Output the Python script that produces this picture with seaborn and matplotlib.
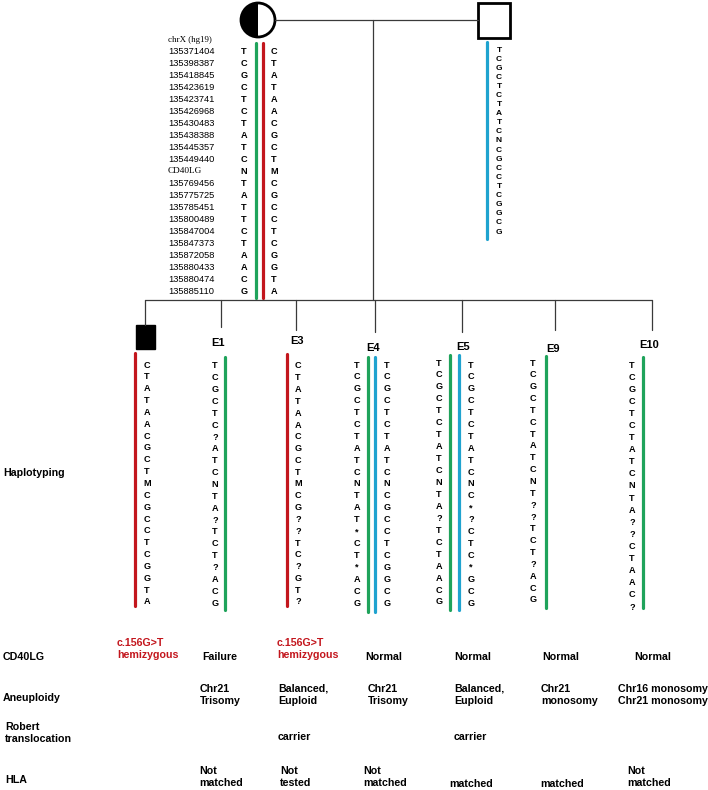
import matplotlib
matplotlib.use("Agg")
import matplotlib.pyplot as plt
from matplotlib.patches import Circle, Wedge, Rectangle
import seaborn as sns

sns.set_theme(style="white")
plt.rcParams['font.family'] = ['Liberation Sans', 'DejaVu Sans']
plt.rcParams['text.color'] = 'black'

# ---- data ----
loci = ["135371404", "135398387", "135418845", "135423619", "135423741",
        "135426968", "135430483", "135438388", "135445357", "135449440",
        "CD40LG", "135769456", "135775725", "135785451", "135800489",
        "135847004", "135847373", "135872058", "135880433", "135880474",
        "135885110"]

mother_h1 = list("TCGCTCTATCNTATTCTAACG")   # green
mother_h2 = list("CTATAACGCTMCGCCTCGGTA")   # red
father_h = list("TCGCTCTATCNCGCCTCGGCG")    # blue

son = list("CTATAACGCTMCGCCTCGGTA")
e1 = list("TCGCTC?ATCNTA?TCT?ACG")
e3 = list("CTATAACGCTMCG??TC?GT?")
e4_m = list("TCGCTCTATCNTAT*CT*ACG")
e4_p = list("TCGCTCTATCNCGCCTCGGCG")
e5_m = list("TCGCTCTATCNTA?TCTAACG")
e5_p = list("TCGCTCTATCNC*?CTC*GCG")
e9 = list("TCGCTCTATCNT??TCT?ACG")
e10 = list("TCGCTCTATCNTA??CTAAC?")

embryos = ["E1", "E3", "E4", "E5", "E9", "E10"]
cd40lg = ["c.156G>T\nhemizygous", "Failure", "c.156G>T\nhemizygous",
          "Normal", "Normal", "Normal", "Normal"]
aneuploidy = ["", "Chr21\nTrisomy", "Balanced,\nEuploid", "Chr21\nTrisomy",
              "Balanced,\nEuploid", "Chr21\nmonosomy",
              "Chr16 monosomy\nChr21 monosomy"]
robert = ["", "", "carrier", "", "carrier", "", ""]
hla = ["", "Not\nmatched", "Not\ntested", "Not\nmatched", "matched",
       "matched", "Not\nmatched"]

GREEN = "#1fa35b"
RED = "#c3161d"
BLUE = "#1fa3cf"
LINE = "#3a3a3a"

fig = plt.figure(figsize=(7.08, 7.90), dpi=100)
ax = fig.add_axes([0, 0, 1, 1])
ax.set_xlim(0, 708)
ax.set_ylim(790, 0)
ax.axis("off")

lw_bar = 2.3
fs_let = 6.6


def letters(x, y0, step, seq, fs=fs_let):
    for i, s in enumerate(seq):
        ax.text(x, y0 + i * step, s, ha="center", va="center",
                fontsize=fs, fontweight="bold", color="black")


# ---- parents ----
ax.add_patch(Wedge((258, 20), 17, 90, 270, facecolor="black", edgecolor="none"))
ax.add_patch(Circle((258, 20), 17, facecolor="none", edgecolor="black", lw=2))
ax.add_patch(Rectangle((478, 3), 32, 35, facecolor="white", edgecolor="black", lw=2))
ax.plot([275, 478], [20, 20], color=LINE, lw=0.9)
ax.plot([373, 373], [20, 300], color=LINE, lw=0.9)

# mother haplotypes
ax.text(168, 40, "chrX (hg19)", fontsize=6.4, family="Liberation Serif",
        va="center", ha="left")
for i, l in enumerate(loci):
    fam = "Liberation Serif" if l == "CD40LG" else "Liberation Sans"
    ax.text(168, 51 + i * 12, l, fontsize=6.7, family=fam, va="center", ha="left")
letters(244, 51, 12, mother_h1)
letters(274, 51, 12, mother_h2)
ax.plot([256, 256], [43, 298], color=GREEN, lw=lw_bar)
ax.plot([263, 263], [43, 298], color=RED, lw=lw_bar)

# father haplotype
ax.plot([487, 487], [42, 239], color=BLUE, lw=lw_bar)
letters(499, 50, 9.1, father_h, fs=6.0)

# ---- sibship ----
drops = [145, 221, 296, 375, 462, 555, 652]
drop_end = [325, 327, 330, 332, 332, 330, 330]
ax.plot([drops[0], drops[-1]], [300, 300], color=LINE, lw=0.9)
for x, ye in zip(drops, drop_end):
    ax.plot([x, x], [300, ye], color=LINE, lw=0.9)

# affected son
ax.add_patch(Rectangle((136, 325), 19, 24, facecolor="black", edgecolor="black"))
ax.plot([135, 135], [353, 606], color=RED, lw=lw_bar)
letters(147, 365, 11.85, son)

label_pos = [(218, 343), (297, 341), (373, 348), (463, 347), (553, 349), (649, 345)]
for name, (x, y) in zip(embryos, label_pos):
    ax.text(x, y, name, fontsize=8, fontweight="bold", ha="center", va="center")

# E1
ax.plot([225, 225], [357, 610], color=GREEN, lw=lw_bar)
letters(215, 366, 11.85, e1)
# E3
ax.plot([287, 287], [354, 606], color=RED, lw=lw_bar)
letters(298, 366, 11.8, e3)
# E4
ax.plot([368, 368], [357, 612], color=GREEN, lw=lw_bar)
ax.plot([375, 375], [357, 612], color=BLUE, lw=lw_bar)
letters(357, 365, 11.9, e4_m)
letters(387, 365, 11.9, e4_p)
# E5
ax.plot([450, 450], [355, 610], color=GREEN, lw=lw_bar)
ax.plot([459, 459], [355, 610], color=BLUE, lw=lw_bar)
letters(439, 363, 11.95, e5_m)
letters(471, 365, 11.9, e5_p)
# E9
ax.plot([546, 546], [356, 608], color=GREEN, lw=lw_bar)
letters(533, 363, 11.85, e9)
# E10
ax.plot([643, 643], [357, 608], color=GREEN, lw=lw_bar)
letters(632, 365, 12.1, e10)

# ---- result table ----
fs_tab = 7.7
ax.text(3, 473, "Haplotyping", fontsize=fs_tab, fontweight="bold", va="center")
ax.text(3, 657, "CD40LG", fontsize=fs_tab, fontweight="bold", va="center")
ax.text(3, 698, "Aneuploidy", fontsize=fs_tab, fontweight="bold", va="center")
ax.text(5, 733, "Robert\ntranslocation", fontsize=fs_tab, fontweight="bold",
        va="center", linespacing=1.35)
ax.text(5, 780, "HLA", fontsize=fs_tab, fontweight="bold", va="center")

cd_x = [117, 202, 277, 365, 454, 542, 634]
an_x = [0, 200, 278, 368, 454, 541, 618]
rb_x = [0, 0, 278, 0, 454, 0, 0]
hl_x = [0, 199, 280, 363, 449, 540, 627]

for i, t in enumerate(cd40lg):
    red = t.startswith("c.")
    ax.text(cd_x[i], 657 if not red else 649, t, fontsize=fs_tab, fontweight="bold",
            color=RED if red else "black", va="center", ha="left", linespacing=1.35)
for i, t in enumerate(aneuploidy):
    if t:
        ax.text(an_x[i], 695, t, fontsize=fs_tab, fontweight="bold",
                va="center", ha="left", linespacing=1.35)
for i, t in enumerate(robert):
    if t:
        ax.text(rb_x[i], 737, t, fontsize=fs_tab, fontweight="bold",
                va="center", ha="left")
for i, t in enumerate(hla):
    if t:
        yy = 777 if "\n" in t else 784
        ax.text(hl_x[i], yy, t, fontsize=fs_tab, fontweight="bold",
                va="center", ha="left", linespacing=1.35)

fig.savefig("out.png", dpi=100)
